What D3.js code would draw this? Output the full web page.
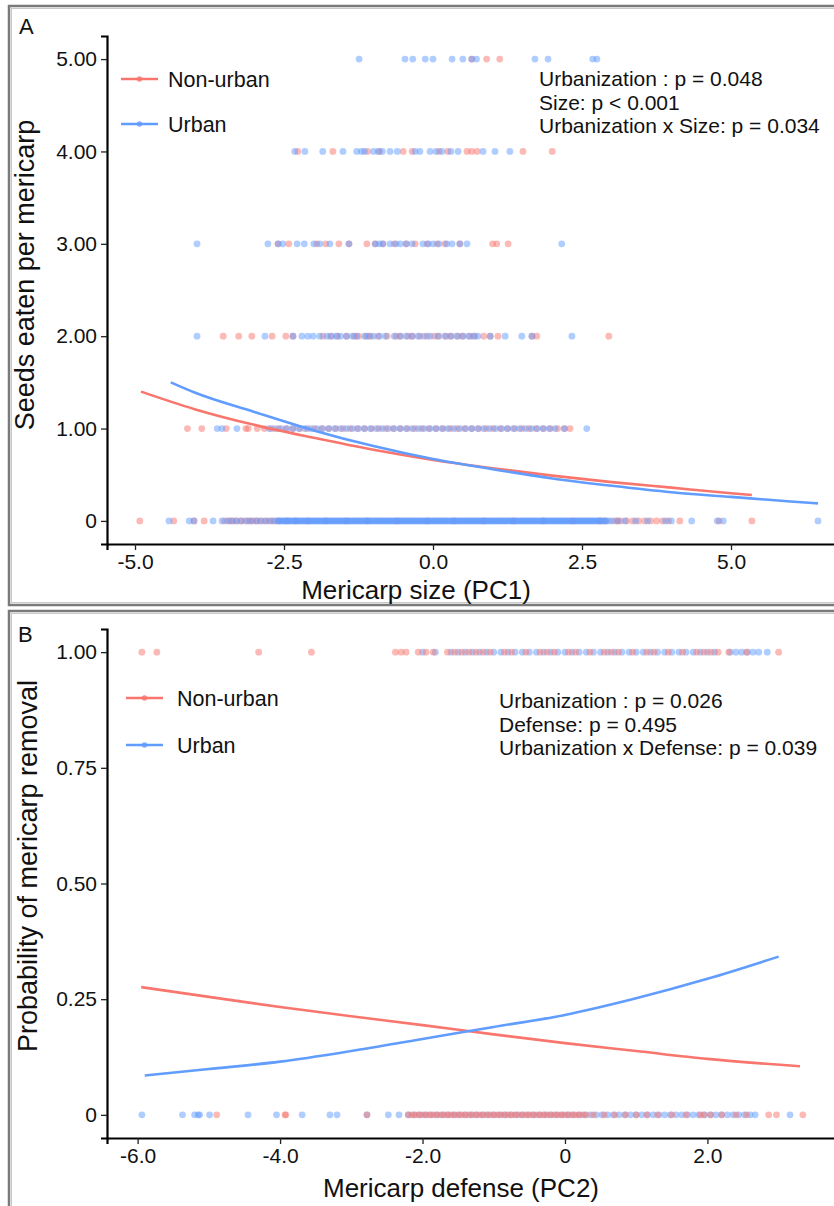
<!DOCTYPE html>
<html>
<head>
<meta charset="utf-8">
<script src="https://cdn.jsdelivr.net/npm/d3@7"></script>
<style>
  body { margin: 0; background: #fff; }
  svg { display: block; font-family: "Liberation Sans", Arial, sans-serif; }
</style>
</head>
<body>
<script>
const width = 834;
const height = 1206;
const red = "#F8766D";
const blue = "#619CFF";

// ---- panel A : seeds eaten vs mericarp size ----
const sizeTicks = [-5, -2.5, 0, 2.5, 5];
const sizeTickLabels = ["-5.0", "-2.5", "0.0", "2.5", "5.0"];
const seedTicks = [0, 1, 2, 3, 4, 5];
const seedTickLabels = ["0", "1.00", "2.00", "3.00", "4.00", "5.00"];

// x values (PC1) of points, one list per number of seeds eaten (0..5)
const sizeNonUrbanRows = [
  [-4.92, -4.35, -4.01, -3.84, -3.5, -3.42, -3.36, -3.3, -3.22, -3.15, -3.08, -3.02, -2.96, -2.9, -2.82, -2.75, -2.68,
   -2.6, -2.45, -2.3, -2.1, -1.8, -1.45, -1.1, -0.6, -0.1, 0.35, 0.85, 1.35, 1.85, 2.35, 2.8, 2.9, 3.05, 3.1, 3.15,
   3.25, 3.35, 3.45, 3.55, 3.65, 3.75, 3.85, 3.95, 4.14, 4.8, 5.35],
  [-4.12, -3.88, -3.47, -3.14, -3.1, -2.95, -2.83, -2.71, -2.59, -2.47, -2.35, -2.23, -2.11, -1.99, -1.87, -1.75, -1.63,
   -1.51, -1.39, -1.27, -1.15, -1.03, -0.91, -0.79, -0.67, -0.55, -0.43, -0.31, -0.19, -0.07, 0.05, 0.17, 0.29, 0.41,
   0.53, 0.65, 0.77, 0.89, 1.01, 1.13, 1.25, 1.37, 1.49, 1.61, 1.73, 1.85, 1.97, 2.09, 2.21, 2.3],
  [-3.52, -3.26, -3.04, -2.7, -2.47, -2.35, -1.85, -1.72, -1.6, -1.45, -1.32, -1.25, -1.12, -1.05, -0.92, -0.77, -0.62,
   -0.55, -0.42, -0.35, -0.22, -0.1, 0.02, 0.1, 0.22, 0.3, 0.42, 0.5, 0.62, 0.7, 0.85, 0.96, 1.09, 1.66, 1.74, 2.95],
  [-2.6, -2.42, -1.95, -1.8, -1.58, -1.41, -1.11, -0.97, -0.84, -0.65, -0.45, -0.3, -0.1, 0.07, 0.2, 0.45, 1.0, 1.07, 1.26],
  [-2.27, -1.68, -1.1, -0.9, -0.5, -0.35, 0.1, 0.25, 0.57, 0.65, 0.74, 1.51, 2.0],
  [0.65, 0.9, 1.12]
];
const sizeUrbanRows = [
  [-4.43, -4.09, -4.01, -3.69, -3.54, -3.45, -3.38, -3.3, -3.22, -3.12, -3.05, -2.96, -2.88, -2.8, -2.72, -2.65,
   -2.6, -2.575, -2.55, -2.525, -2.5, -2.475, -2.45, -2.425, -2.4, -2.375, -2.35, -2.325, -2.3, -2.275, -2.25, -2.225,
   -2.2, -2.175, -2.15, -2.125, -2.1, -2.075, -2.05, -2.025, -2.0, -1.975, -1.95, -1.925, -1.9, -1.875, -1.85, -1.825,
   -1.8, -1.775, -1.75, -1.725, -1.7, -1.675, -1.65, -1.625, -1.6, -1.575, -1.55, -1.525, -1.5, -1.475, -1.45, -1.425,
   -1.4, -1.375, -1.35, -1.325, -1.3, -1.275, -1.25, -1.225, -1.2, -1.175, -1.15, -1.125, -1.1, -1.075, -1.05, -1.025,
   -1.0, -0.975, -0.95, -0.925, -0.9, -0.875, -0.85, -0.825, -0.8, -0.775, -0.75, -0.725, -0.7, -0.675, -0.65, -0.625,
   -0.6, -0.575, -0.55, -0.525, -0.5, -0.475, -0.45, -0.425, -0.4, -0.375, -0.35, -0.325, -0.3, -0.275, -0.25, -0.225,
   -0.2, -0.175, -0.15, -0.125, -0.1, -0.075, -0.05, -0.025, 0.0, 0.025, 0.05, 0.075, 0.1, 0.125, 0.15, 0.175,
   0.2, 0.225, 0.25, 0.275, 0.3, 0.325, 0.35, 0.375, 0.4, 0.425, 0.45, 0.475, 0.5, 0.525, 0.55, 0.575,
   0.6, 0.625, 0.65, 0.675, 0.7, 0.725, 0.75, 0.775, 0.8, 0.825, 0.85, 0.875, 0.9, 0.925, 0.95, 0.975,
   1.0, 1.025, 1.05, 1.075, 1.1, 1.125, 1.15, 1.175, 1.2, 1.225, 1.25, 1.275, 1.3, 1.325, 1.35, 1.375,
   1.4, 1.425, 1.45, 1.475, 1.5, 1.525, 1.55, 1.575, 1.6, 1.625, 1.65, 1.675, 1.7, 1.725, 1.75, 1.775,
   1.8, 1.825, 1.85, 1.875, 1.9, 1.925, 1.95, 1.975, 2.0, 2.025, 2.05, 2.075, 2.1, 2.125, 2.15, 2.175,
   2.2, 2.225, 2.25, 2.275, 2.3, 2.325, 2.35, 2.375, 2.4, 2.425, 2.45, 2.475, 2.5, 2.525, 2.55, 2.575,
   2.6, 2.625, 2.65, 2.675, 2.7, 2.725, 2.75, 2.775, 2.8, 2.825, 2.85, 2.875, 2.9, 2.95, 3.0, 3.1, 3.22, 3.4, 3.6,
   3.9, 4.0, 4.34, 4.77, 4.87, 6.46],
  [-3.62, -3.54, -3.29, -2.75, -2.65, -2.55, -2.45, -2.35, -2.25, -2.15, -2.05, -1.95, -1.85, -1.75, -1.65, -1.55, -1.45,
   -1.35, -1.25, -1.15, -1.05, -0.95, -0.85, -0.75, -0.65, -0.55, -0.45, -0.35, -0.25, -0.15, -0.05, 0.05, 0.15, 0.25,
   0.35, 0.45, 0.55, 0.65, 0.75, 0.85, 0.95, 1.05, 1.15, 1.25, 1.35, 1.45, 1.55, 1.65, 1.75, 1.85, 1.95, 2.05, 2.2, 2.58],
  [-3.96, -2.82, -2.35, -2.2, -2.1, -2.01, -1.9, -1.78, -1.7, -1.62, -1.55, -1.45, -1.35, -1.28, -1.15, -1.08, -1.0,
   -0.9, -0.8, -0.65, -0.55, -0.45, -0.35, -0.25, -0.15, -0.05, 0.08, 0.2, 0.3, 0.4, 0.5, 0.6, 0.68, 0.75, 0.96, 1.21,
   1.49, 1.66, 2.33],
  [-3.96, -2.77, -2.6, -2.52, -2.28, -2.16, -2.0, -1.9, -1.73, -1.41, -0.97, -0.9, -0.84, -0.72, -0.62, -0.55, -0.45,
   -0.35, -0.17, -0.08, 0.0, 0.1, 0.23, 0.32, 0.45, 0.57, 2.16],
  [-2.32, -2.15, -1.85, -1.51, -1.28, -1.2, -1.15, -1.0, -0.92, -0.85, -0.72, -0.6, -0.3, -0.22, -0.05, 0.05, 0.15,
   0.3, 0.42, 0.84, 1.04, 1.29],
  [-1.24, -0.47, -0.34, -0.13, 0.0, 0.32, 0.5, 0.65, 0.73, 1.71, 1.93, 2.68, 2.75]
];

// fitted curves
const sizeCurveNonUrbanX = [-4.9, -4, -3, -2, -1, 0, 1, 2, 3, 4, 5, 5.35];
const sizeCurveNonUrbanY = [1.40, 1.21, 1.04, 0.90, 0.77, 0.66, 0.57, 0.49, 0.42, 0.36, 0.30, 0.28];
const sizeCurveUrbanX = [-4.4, -4, -3, -2, -1, 0, 1, 2, 3, 4, 5, 6, 6.46];
const sizeCurveUrbanY = [1.50, 1.39, 1.18, 0.98, 0.81, 0.67, 0.56, 0.46, 0.38, 0.31, 0.26, 0.21, 0.19];

const sizeStats = ["Urbanization : p = 0.048", "Size: p < 0.001", "Urbanization x Size: p = 0.034"];

// ---- panel B : removal vs mericarp defense ----
const defenseTicks = [-6, -4, -2, 0, 2];
const defenseTickLabels = ["-6.0", "-4.0", "-2.0", "0", "2.0"];
const removalTicks = [0, 0.25, 0.5, 0.75, 1];
const removalTickLabels = ["0", "0.25", "0.50", "0.75", "1.00"];

// x values (PC2), row 0 = not removed, row 1 = removed
const defenseNonUrbanRows = [
  [-4.89, -3.93, -3.92, -2.78, -2.2, -2.15, -2.1, -2.05, -2.0, -1.95, -1.9, -1.85, -1.8, -1.75, -1.7, -1.65, -1.6,
   -1.55, -1.5, -1.45, -1.4, -1.35, -1.3, -1.25, -1.2, -1.15, -1.1, -1.05, -1.0, -0.95, -0.9, -0.85, -0.8, -0.75, -0.7,
   -0.65, -0.6, -0.55, -0.5, -0.45, -0.4, -0.35, -0.3, -0.25, -0.2, -0.15, -0.1, -0.05, 0.0, 0.05, 0.1, 0.15, 0.2,
   0.25, 0.3, 0.4, 0.55, 0.7, 0.85, 1.0, 1.15, 1.3, 1.5, 1.7, 1.9, 1.95, 2.05, 2.2, 2.4, 2.55, 2.86, 2.97, 3.34],
  [-5.94, -5.73, -4.3, -3.56, -2.38, -2.3, -2.23, -2.06, -1.95, -1.85, -1.65, -1.55, -1.45, -1.35, -1.25, -1.15, -1.05,
   -0.85, -0.75, -0.55, -0.35, -0.25, -0.15, 0.05, 0.15, 0.35, 0.55, 0.65, 0.75, 0.95, 1.15, 1.25, 1.45, 1.65, 1.85,
   1.95, 2.05, 2.15, 2.3, 2.55, 3.0]
];
const defenseUrbanRows = [
  [-5.94, -5.37, -5.2, -5.15, -5.13, -4.99, -4.45, -4.05, -3.69, -3.3, -3.2, -2.78, -2.48, -2.33, -2.2, -2.12, -2.04,
   -1.96, -1.88, -1.8, -1.72, -1.64, -1.56, -1.48, -1.4, -1.32, -1.24, -1.16, -1.08, -1.0, -0.92, -0.84, -0.76, -0.68,
   -0.6, -0.52, -0.44, -0.36, -0.28, -0.2, -0.12, -0.04, 0.04, 0.12, 0.2, 0.28, 0.36, 0.44, 0.52, 0.6, 0.68, 0.76,
   0.84, 0.92, 1.0, 1.08, 1.16, 1.24, 1.32, 1.4, 1.48, 1.56, 1.64, 1.72, 1.8, 1.88, 1.96, 2.04, 2.12, 2.2, 2.28, 2.36,
   2.44, 2.52, 2.6, 2.67, 3.16],
  [-2.0, -1.82, -1.6, -1.5, -1.4, -1.3, -1.2, -1.1, -1.0, -0.9, -0.8, -0.7, -0.6, -0.5, -0.4, -0.3, -0.2, -0.1, 0.0,
   0.1, 0.2, 0.3, 0.4, 0.5, 0.6, 0.7, 0.8, 0.9, 1.0, 1.1, 1.2, 1.3, 1.4, 1.5, 1.6, 1.7, 1.8, 1.9, 2.0, 2.1, 2.32, 2.4,
   2.48, 2.56, 2.64, 2.72, 2.84]
];

const defenseCurveNonUrbanX = [-5.95, -5, -4, -3, -2, -1, 0, 1, 2, 3.3];
const defenseCurveNonUrbanY = [0.276, 0.255, 0.233, 0.213, 0.194, 0.174, 0.155, 0.138, 0.121, 0.105];
const defenseCurveUrbanX = [-5.9, -5, -4, -3, -2, -1, 0, 1, 2, 3.0];
const defenseCurveUrbanY = [0.085, 0.099, 0.115, 0.138, 0.164, 0.19, 0.216, 0.252, 0.294, 0.342];

const defenseStats = ["Urbanization : p = 0.026", "Defense: p = 0.495", "Urbanization x Defense: p = 0.039"];

const groups = ["Non-urban", "Urban"];

const svg = d3.select("body").append("svg")
  .attr("width", width)
  .attr("height", height);

svg.append("rect").attr("width", width).attr("height", height).attr("fill", "#fff");

function toPoints(rows, yValues) {
  let pts = [];
  rows.forEach((xs, i) => xs.forEach(x => pts.push({ x: x, y: yValues[i] })));
  return pts;
}

function drawPanel(cfg) {
  const g = svg.append("g");

  // panel frame
  g.append("rect")
    .attr("x", 9).attr("y", cfg.frameTop)
    .attr("width", 840).attr("height", cfg.frameH)
    .attr("fill", "none").attr("stroke", "#7a7a7a").attr("stroke-width", 2.5);
  g.append("rect")
    .attr("x", 11.5).attr("y", cfg.frameTop + 2.5)
    .attr("width", 840).attr("height", cfg.frameH - 5)
    .attr("fill", "none").attr("stroke", "#c8c8c8").attr("stroke-width", 1);

  g.append("text")
    .attr("x", cfg.letterX).attr("y", cfg.letterY)
    .attr("font-size", 22).attr("fill", "#111")
    .text(cfg.letter);

  const x = d3.scaleLinear().domain(cfg.xDomain).range([107, 852]);
  const y = d3.scaleLinear().domain(cfg.yDomain).range(cfg.yRange);

  // points
  const ptsR = toPoints(cfg.redRows, cfg.rowValues);
  const ptsB = toPoints(cfg.blueRows, cfg.rowValues);
  const layers = cfg.blueFirst ? [[ptsB, blue], [ptsR, red]] : [[ptsR, red], [ptsB, blue]];
  layers.forEach(([pts, col]) => {
    g.append("g").selectAll("circle")
      .data(pts)
      .join("circle")
      .attr("cx", d => x(d.x))
      .attr("cy", d => y(d.y))
      .attr("r", 3.4)
      .attr("fill", col)
      .attr("fill-opacity", 0.5);
  });

  // curves
  const line = d3.line().x(d => x(d[0])).y(d => y(d[1])).curve(d3.curveMonotoneX);
  [[cfg.redCurveX, cfg.redCurveY, red], [cfg.blueCurveX, cfg.blueCurveY, blue]].forEach(([xs, ys, col]) => {
    g.append("path")
      .datum(xs.map((v, i) => [v, ys[i]]))
      .attr("d", line)
      .attr("fill", "none")
      .attr("stroke", col)
      .attr("stroke-width", 2.6);
  });

  // axes
  const xAxis = g.append("g")
    .attr("transform", `translate(0,${cfg.yRange[0]})`)
    .call(d3.axisBottom(x).tickValues(cfg.xTicks).tickFormat((d, i) => cfg.xTickLabels[i])
      .tickSizeOuter(0).tickSize(6).tickPadding(4));
  const yAxis = g.append("g")
    .attr("transform", "translate(107,0)")
    .call(d3.axisLeft(y).tickValues(cfg.yTicks).tickFormat((d, i) => cfg.yTickLabels[i])
      .tickSizeOuter(0).tickSize(6).tickPadding(4));
  [xAxis, yAxis].forEach(a => {
    a.select(".domain").attr("stroke", "#000").attr("stroke-width", 2.2);
    a.selectAll(".tick line").attr("stroke", "#222").attr("stroke-width", 1.3);
    a.selectAll(".tick text").attr("font-size", 21).attr("fill", "#111")
      .attr("font-family", "'Liberation Sans', Arial, sans-serif");
  });

  // axis titles
  g.append("text")
    .attr("x", cfg.xTitleX).attr("y", cfg.xTitleY)
    .attr("text-anchor", "middle").attr("font-size", 26).attr("fill", "#111")
    .text(cfg.xTitle);
  g.append("text")
    .attr("transform", `translate(${cfg.yTitleX},${cfg.yTitleY}) rotate(-90)`)
    .attr("text-anchor", "middle").attr("font-size", 27).attr("fill", "#111")
    .text(cfg.yTitle);

  // legend
  groups.forEach((name, i) => {
    const ly = cfg.legendY[i];
    const col = i === 0 ? red : blue;
    g.append("line")
      .attr("x1", cfg.legendX).attr("x2", cfg.legendX + 37)
      .attr("y1", ly).attr("y2", ly)
      .attr("stroke", col).attr("stroke-width", 2.6);
    g.append("circle")
      .attr("cx", cfg.legendX + 18.5).attr("cy", ly).attr("r", 2.8)
      .attr("fill", col).attr("fill-opacity", 0.8);
    g.append("text")
      .attr("x", cfg.legendX + cfg.legendGap).attr("y", ly)
      .attr("dy", "0.36em")
      .attr("font-size", 21.5).attr("fill", "#111")
      .text(name);
  });

  // statistics
  cfg.stats.forEach((s, i) => {
    g.append("text")
      .attr("x", cfg.statsX).attr("y", cfg.statsY + i * 23.5)
      .attr("font-size", 21).attr("fill", "#111")
      .text(s);
  });
}

drawPanel({
  frameTop: 6, frameH: 599,
  letter: "A", letterX: 19, letterY: 34,
  xDomain: [-5.47, 7.03], yDomain: [-0.25, 5.25], yRange: [544, 36],
  rowValues: seedTicks,
  redRows: sizeNonUrbanRows, blueRows: sizeUrbanRows, blueFirst: false,
  redCurveX: sizeCurveNonUrbanX, redCurveY: sizeCurveNonUrbanY,
  blueCurveX: sizeCurveUrbanX, blueCurveY: sizeCurveUrbanY,
  xTicks: sizeTicks, xTickLabels: sizeTickLabels,
  yTicks: seedTicks, yTickLabels: seedTickLabels,
  xTitle: "Mericarp size (PC1)", xTitleX: 416, xTitleY: 599,
  yTitle: "Seeds eaten per mericarp", yTitleX: 34, yTitleY: 275,
  legendX: 121, legendGap: 47, legendY: [79, 124],
  stats: sizeStats, statsX: 539, statsY: 86
});

drawPanel({
  frameTop: 611, frameH: 600,
  letter: "B", letterX: 18, letterY: 642,
  xDomain: [-6.43, 4.03], yDomain: [-0.05, 1.05], yRange: [1138, 629],
  rowValues: [0, 1],
  redRows: defenseNonUrbanRows, blueRows: defenseUrbanRows, blueFirst: true,
  redCurveX: defenseCurveNonUrbanX, redCurveY: defenseCurveNonUrbanY,
  blueCurveX: defenseCurveUrbanX, blueCurveY: defenseCurveUrbanY,
  xTicks: defenseTicks, xTickLabels: defenseTickLabels,
  yTicks: removalTicks, yTickLabels: removalTickLabels,
  xTitle: "Mericarp defense (PC2)", xTitleX: 461, xTitleY: 1197,
  yTitle: "Probability of mericarp removal", yTitleX: 37, yTitleY: 866,
  legendX: 126, legendGap: 51, legendY: [698, 745],
  stats: defenseStats, statsX: 499, statsY: 708
});
</script>
</body>
</html>
